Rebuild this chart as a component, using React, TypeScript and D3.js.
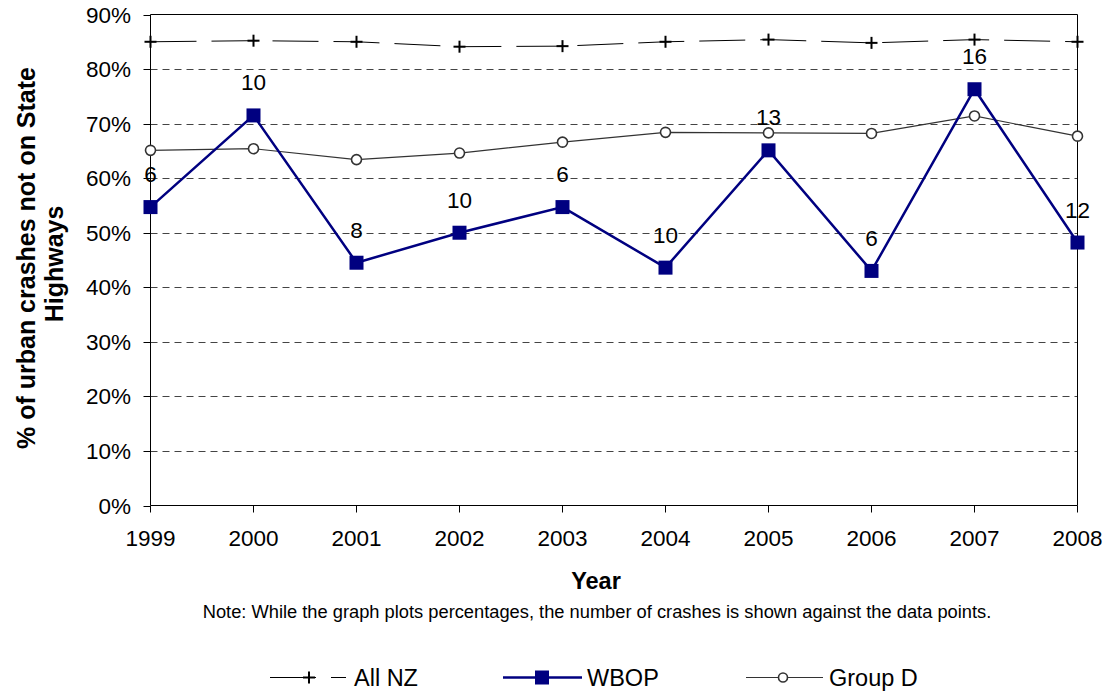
import React from "react";
import * as d3 from "d3";

const years = [1999, 2000, 2001, 2002, 2003, 2004, 2005, 2006, 2007, 2008];
const allNZ = [85.0, 85.2, 85.0, 84.1, 84.2, 85.0, 85.4, 84.8, 85.4, 85.0];
const wbop = [54.7, 71.5, 44.5, 50.0, 54.7, 43.6, 65.1, 43.0, 76.3, 48.2];
const groupD = [65.1, 65.4, 63.4, 64.6, 66.6, 68.4, 68.3, 68.2, 71.4, 67.7];
const crashCounts = [6, 10, 8, 10, 6, 10, 13, 6, 16, 12];
const yTicks = [0, 10, 20, 30, 40, 50, 60, 70, 80, 90];

const W = 1107;
const H = 692;
const L = 150.5, R = 1077.5, T = 14.5, B = 505.5;
const FONT = "Liberation Sans, Arial, sans-serif";
const NAVY = "#000080";

export default function App() {
  const x = d3.scaleLinear().domain([1999, 2008]).range([L, R]);
  const y = d3.scaleLinear().domain([0, 90]).range([B, T]);
  const line = d3
    .line<number>()
    .x((_, i) => x(years[i]))
    .y((d) => y(d));

  const plus = (cx: number, cy: number, k: string, s = 6) => (
    <g key={k} stroke="#000" strokeWidth={2}>
      <line x1={cx - s} x2={cx + s} y1={cy} y2={cy} />
      <line x1={cx} x2={cx} y1={cy - s} y2={cy + s} />
    </g>
  );
  const square = (cx: number, cy: number, k: string, s = 7) => (
    <rect key={k} x={cx - s} y={cy - s} width={2 * s} height={2 * s} fill={NAVY} />
  );
  const circle = (cx: number, cy: number, k: string, r = 5) => (
    <circle key={k} cx={cx} cy={cy} r={r} fill="#fff" stroke="#333" strokeWidth={1.6} />
  );

  return (
    <svg
      width={W}
      height={H}
      style={{ position: "absolute", left: 0, top: 0, background: "#fff" }}
      fontFamily={FONT}
    >
      <rect x={0} y={0} width={W} height={H} fill="#fff" />
      {/* gridlines */}
      {yTicks
        .filter((t) => t > 0 && t < 90)
        .map((t) => (
          <line
            key={"g" + t}
            x1={L}
            x2={R}
            y1={Math.round(y(t)) + 0.5}
            y2={Math.round(y(t)) + 0.5}
            stroke="#444"
            strokeWidth={1}
            strokeDasharray="7 5"
          />
        ))}
      {/* frame */}
      <line x1={L} x2={R} y1={T} y2={T} stroke="#000" strokeWidth={1} />
      <line x1={R} x2={R} y1={T} y2={B} stroke="#000" strokeWidth={1} />
      <line x1={L} x2={L} y1={T} y2={B} stroke="#000" strokeWidth={1} />
      <line x1={L} x2={R} y1={B} y2={B} stroke="#000" strokeWidth={1} />
      {/* y ticks */}
      {yTicks.map((t) => (
        <g key={"yt" + t}>
          <line x1={L - 7} x2={L} y1={Math.round(y(t)) + 0.5} y2={Math.round(y(t)) + 0.5} stroke="#000" />
          <text x={131} y={y(t) + 8} textAnchor="end" fontSize={22.5} fill="#000">
            {t + "%"}
          </text>
        </g>
      ))}
      {/* x ticks */}
      {years.map((yr) => (
        <g key={"xt" + yr}>
          <line x1={x(yr)} x2={x(yr)} y1={B} y2={B + 7} stroke="#000" />
          <text x={x(yr)} y={546} textAnchor="middle" fontSize={22.5} fill="#000">
            {yr}
          </text>
        </g>
      ))}
      {/* series */}
      <path d={line(groupD) || ""} fill="none" stroke="#333" strokeWidth={1.2} />
      <path d={line(allNZ) || ""} fill="none" stroke="#000" strokeWidth={1} strokeDasharray="46 15" />
      <path d={line(wbop) || ""} fill="none" stroke={NAVY} strokeWidth={2.5} />
      {groupD.map((v, i) => circle(x(years[i]), y(v), "c" + i))}
      {allNZ.map((v, i) => plus(x(years[i]), y(v), "p" + i))}
      {wbop.map((v, i) => square(x(years[i]), y(v), "s" + i))}
      {wbop.map((v, i) => (
        <text key={"l" + i} x={x(years[i])} y={y(v) - 25} textAnchor="middle" fontSize={22.5} fill="#000">
          {crashCounts[i]}
        </text>
      ))}
      {/* axis titles */}
      <text x={596} y={589} textAnchor="middle" fontSize={23.5} fontWeight="bold" fill="#000">
        Year
      </text>
      <text x={597} y={618} textAnchor="middle" fontSize={18.3} fill="#000">
        Note: While the graph plots percentages, the number of crashes is shown against the data points.
      </text>
      <g transform="rotate(-90)">
        <text x={-258} y={35} textAnchor="middle" fontSize={25} fontWeight="bold" fill="#000">
          % of urban crashes not on State
        </text>
        <text x={-264} y={63} textAnchor="middle" fontSize={25} fontWeight="bold" fill="#000">
          Highways
        </text>
      </g>
      {/* legend */}
      <g>
        <line x1={270} x2={346} y1={677.5} y2={677.5} stroke="#000" strokeWidth={1} strokeDasharray="46 15" />
        {plus(309, 677.5, "lp")}
        <text x={354} y={686} fontSize={23.5} fill="#000">All NZ</text>
        <line x1={503} x2={582} y1={677.5} y2={677.5} stroke={NAVY} strokeWidth={2.5} />
        {square(542, 677.5, "ls")}
        <text x={587} y={686} fontSize={23.5} fill="#000">WBOP</text>
        <line x1={746} x2={823} y1={677.5} y2={677.5} stroke="#333" strokeWidth={1.2} />
        {circle(783, 677.5, "lc", 4.5)}
        <text x={829} y={686} fontSize={23.5} fill="#000">Group D</text>
      </g>
    </svg>
  );
}
